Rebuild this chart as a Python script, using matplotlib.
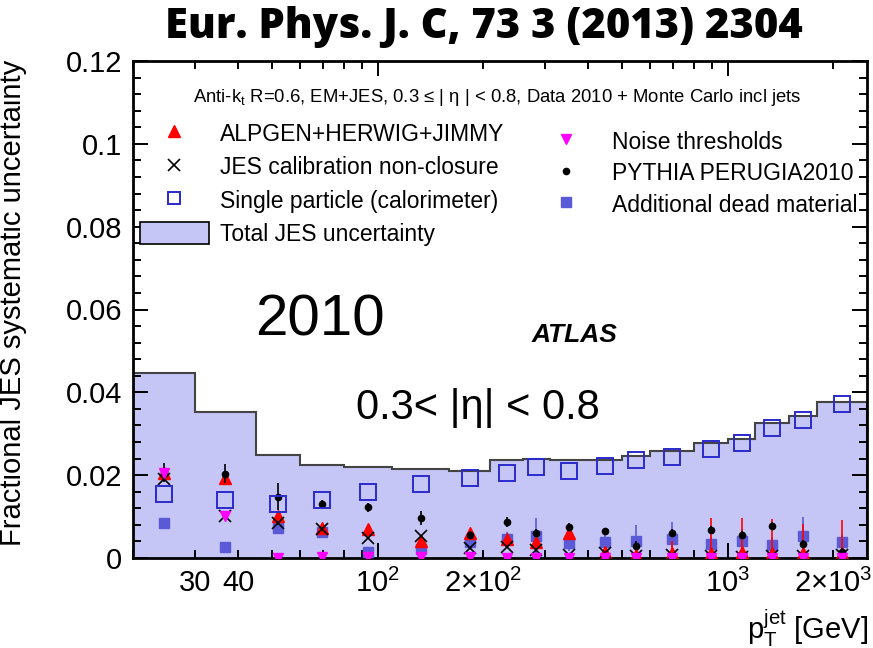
import numpy as np
import matplotlib
matplotlib.use("Agg")
import matplotlib.pyplot as plt
from matplotlib.ticker import MultipleLocator, FuncFormatter
from matplotlib.patches import Patch
from matplotlib.lines import Line2D

plt.rcParams['font.family'] = ['Liberation Sans', 'DejaVu Sans']
plt.rcParams['mathtext.fontset'] = 'custom'
plt.rcParams['mathtext.rm'] = 'Liberation Sans'
plt.rcParams['mathtext.it'] = 'Liberation Sans:italic'

# pT bin edges (GeV) and bin-by-bin uncertainties
edges = [20, 30, 45, 60, 80, 110, 160, 210, 260, 310, 400, 500, 600, 800, 1000, 1200, 1500, 1800, 2500]
total_jes = [0.0446, 0.0353, 0.0249, 0.0224, 0.0219, 0.0214, 0.0211, 0.0237, 0.0240, 0.0237,
             0.0237, 0.0247, 0.0258, 0.0277, 0.0287, 0.0327, 0.0343, 0.0376]
single_particle = [0.0154, 0.0140, 0.0130, 0.0140, 0.0159, 0.0179, 0.0192, 0.0206, 0.0219, 0.0211,
                   0.0222, 0.0237, 0.0243, 0.0262, 0.0278, 0.0315, 0.0333, 0.0372]
alpgen = [0.0205, 0.0194, 0.0102, 0.0072, 0.0070, 0.0041, 0.0060, 0.0045, 0.0038, 0.0060,
          0.0015, 0.0007, 0.0011, 0.0013, 0.0015, 0.0011, 0.0011, 0.0011]
alpgen_err = [0.0005, 0.0005, 0.0005, 0.0005, 0.0005, 0.0005, 0.0008, 0.0008, 0.0008, 0.0008,
              0.0010, 0.0020, 0.0030, 0.0083, 0.0081, 0.0083, 0.0070, 0.0080]
non_closure = [0.0191, 0.0101, 0.0084, 0.0070, 0.0049, 0.0053, 0.0023, 0.0027, 0.0019, 0.0007,
               0.0011, 0.0005, 0.0007, 0.0005, 0.0003, 0.0005, 0.0005, 0.0008]
noise = [0.0205, 0.0101, 0.0001, 0.0002, 0.0002, 0.0002, 0.0002, 0.0001, 0.0001, 0.0001,
         0.0001, 0.0001, 0.0001, 0.0001, 0.0001, 0.0001, 0.0001, 0.0001]
pythia = [0.0207, 0.0204, 0.0148, 0.0130, 0.0122, 0.0096, 0.0055, 0.0088, 0.0060, 0.0076,
          0.0065, 0.0030, 0.0060, 0.0068, 0.0056, 0.0077, 0.0033, 0.0015]
pythia_err = [0.0023, 0.0024, 0.0032, 0.0010, 0.0012, 0.0017, 0.0010, 0.0012, 0.0010, 0.0008,
              0.0008, 0.0010, 0.0010, 0.0010, 0.0010, 0.0010, 0.0010, 0.0010]
dead_material = [0.0085, 0.0026, 0.0073, 0.0062, 0.0015, 0.0022, 0.0038, 0.0047, 0.0052, 0.0037,
                 0.0039, 0.0041, 0.0045, 0.0035, 0.0041, 0.0031, 0.0052, 0.0039]
dead_err = [0.0, 0.0, 0.0005, 0.0005, 0.0005, 0.0005, 0.0010, 0.0015, 0.0045, 0.0020,
            0.0020, 0.0038, 0.0041, 0.0015, 0.0030, 0.0020, 0.0046, 0.0020]

xtick_major = [100, 1000]
xtick_major_labels = [r'$\mathregular{10^2}$', r'$\mathregular{10^3}$']
xtick_minor = [20, 30, 40, 50, 60, 70, 80, 90, 200, 300, 400, 500, 600, 700, 800, 900, 2000]
xtick_minor_labels = ['', '30', '40', '', '', '', '', '', r'$\mathregular{2{\times}10^2}$',
                      '', '', '', '', '', '', '', r'$\mathregular{2{\times}10^3}$']

centers = np.sqrt(np.array(edges[:-1]) * np.array(edges[1:]))

fill_col = '#c6c6f6'
dead_col = '#5a5ad6'
open_col = '#2a2acc'

fig = plt.figure(figsize=(8.73, 6.48), dpi=100)
ax = fig.add_axes([133/873, 1 - 558/648, 734/873, 497/648])

ax.stairs(total_jes, edges, fill=True, color=fill_col, zorder=1)
ax.stairs(total_jes, edges, color='#444444', linewidth=1.5, zorder=2)

ax.errorbar(centers, dead_material, yerr=dead_err, fmt='s', color=dead_col, ms=7,
            elinewidth=1.2, capsize=0, zorder=3)
ax.errorbar(centers, alpgen, yerr=alpgen_err, fmt='^', color='red', ms=8,
            elinewidth=1.2, capsize=0, zorder=4)
ax.errorbar(centers, pythia, yerr=pythia_err, fmt='o', color='black', ms=4.5,
            elinewidth=1.2, capsize=0, zorder=5)
ax.plot(centers, non_closure, 'x', color='black', ms=9, mew=1.2, zorder=6)
ax.plot(centers, noise, 'v', color='magenta', ms=7, zorder=6)
ax.plot(centers, single_particle, 's', mfc='none', mec=open_col, ms=11, mew=1.4, zorder=7)

ax.set_xscale('log')
ax.set_xlim(20, 2500)
ax.set_ylim(0, 0.12)

ax.set_xticks(xtick_major, labels=xtick_major_labels)
ax.set_xticks(xtick_minor, labels=xtick_minor_labels, minor=True)
ax.yaxis.set_major_locator(MultipleLocator(0.02))
ax.yaxis.set_minor_locator(MultipleLocator(0.004))
ax.yaxis.set_major_formatter(FuncFormatter(lambda v, p: '%g' % round(v, 3)))

ax.tick_params(which='both', direction='in', top=True, right=True, width=1.4)
ax.tick_params(which='major', length=11, labelsize=21, pad=8)
ax.tick_params(which='minor', length=5.5, labelsize=21, pad=8)
for s in ax.spines.values():
    s.set_linewidth(2)

ax.set_ylabel('Fractional JES systematic uncertainty', fontsize=21)
ax.yaxis.set_label_coords(-0.144, 0.513)
fig.text(868/873, 1 - 628/648, r'$\mathregular{p_{T}^{jet}}$ [GeV]', fontsize=21,
         ha='right', va='center')

fig.text(484/873, 1 - 27/648, 'Eur. Phys. J. C, 73 3 (2013) 2304', fontsize=30,
         fontweight='heavy', family=['Open Sans', 'DejaVu Sans'], ha='center', va='center')

ax.text(0.496, 0.9256, r'Anti-k$_{\mathregular{t}}$ R=0.6, EM+JES, 0.3 ≤ | η | < 0.8, Data 2010 + Monte Carlo incl jets',
        transform=ax.transAxes, fontsize=13.3, ha='center', va='center')
ax.text((320 - 133)/734, (558 - 320)/497, '2010', transform=ax.transAxes, fontsize=42,
        ha='center', va='center')
ax.text((574 - 133)/734, (558 - 335)/497, 'ATLAS', transform=ax.transAxes, fontsize=19,
        fontweight='bold', fontstyle='italic', ha='center', va='center')
ax.text((478 - 133)/734, (558 - 408)/497, '0.3< |η| < 0.8', transform=ax.transAxes,
        fontsize=30, ha='center', va='center')

h_alp = Line2D([], [], marker='^', color='red', ls='none', ms=8)
h_jes = Line2D([], [], marker='x', color='black', ls='none', ms=9, mew=1.2)
h_sp = Line2D([], [], marker='s', mfc='none', mec=open_col, ls='none', ms=9, mew=1.4)
h_tot = Patch(facecolor=fill_col, edgecolor='black', linewidth=1.2)
h_noise = Line2D([], [], marker='v', color='magenta', ls='none', ms=7)
h_py = Line2D([], [], marker='o', color='black', ls='none', ms=4.5)
h_dead = Line2D([], [], marker='s', color=dead_col, ls='none', ms=7)

leg1 = ax.legend([h_alp, h_jes, h_sp, h_tot],
                 ['ALPGEN+HERWIG+JIMMY', 'JES calibration non-closure',
                  'Single particle (calorimeter)', 'Total JES uncertainty'],
                 loc='upper left', bbox_to_anchor=(140/873, 1 - 122/648), bbox_transform=fig.transFigure,
                 frameon=False, fontsize=16.5, handlelength=3, handleheight=1.1, handletextpad=0.5,
                 labelspacing=0.42, borderpad=0, borderaxespad=0)
ax.add_artist(leg1)
ax.legend([h_noise, h_py, h_dead],
          ['Noise thresholds', 'PYTHIA PERUGIA2010', 'Additional dead material'],
          loc='upper left', bbox_to_anchor=(532/873, 1 - 130/648), bbox_transform=fig.transFigure,
          frameon=False, fontsize=16.5, handlelength=3, handleheight=1.1, handletextpad=0.5,
          labelspacing=0.33, borderpad=0, borderaxespad=0)

fig.savefig('out.png', dpi=100)
